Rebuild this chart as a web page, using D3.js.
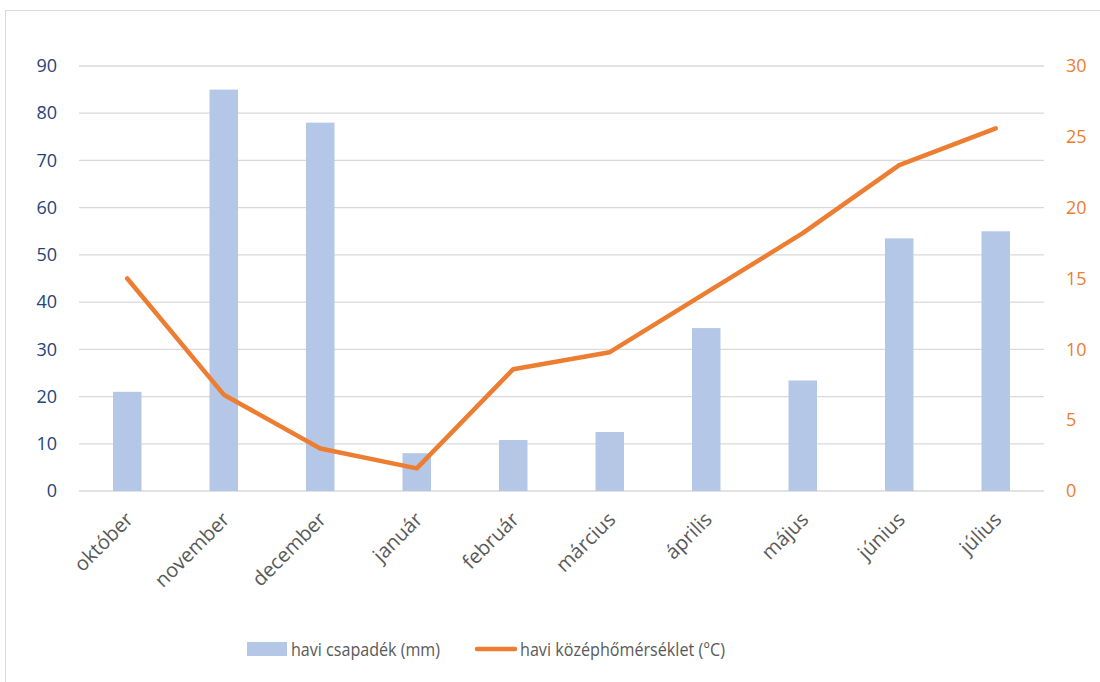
<!DOCTYPE html>
<html>
<head>
<meta charset="utf-8">
<script src="https://cdn.jsdelivr.net/npm/d3@7"></script>
<style>
  html, body { margin: 0; padding: 0; background: #fff; }
  svg { display: block; font-family: "Open Sans", "Noto Sans", sans-serif; }
</style>
</head>
<body>
<svg id="chart" width="1100" height="682"></svg>
<script>
// Months of the observation period
const months = ["október", "november", "december", "január", "február", "március", "április", "május", "június", "július"];
// Monthly precipitation (mm)
const precipitation = [21, 85, 78, 8, 10.8, 12.5, 34.5, 23.4, 53.5, 55];
// Monthly mean temperature (°C)
const temperature = [15.0, 6.8, 3.0, 1.6, 8.6, 9.8, 14.0, 18.2, 23.0, 25.6];
// Axis ticks
const leftTicks = [0, 10, 20, 30, 40, 50, 60, 70, 80, 90];
const rightTicks = [0, 5, 10, 15, 20, 25, 30];
// Legend entries
const seriesNames = ["havi csapadék (mm)", "havi középhőmérséklet (°C)"];

const svg = d3.select("#chart");
const W = 1100, H = 682;
const m = { left: 79, right: 1044, top: 66, bottom: 491 };

const barColor = "#B4C7E7";
const lineColor = "#ED7D31";
const gridColor = "#D9D9D9";
const font = "'Open Sans', sans-serif";

// Chart area frame
svg.append("rect")
  .attr("x", 5.5).attr("y", 10.5)
  .attr("width", W).attr("height", H)
  .attr("fill", "#fff")
  .attr("stroke", "#D9D9D9").attr("stroke-width", 1);

const x = d3.scaleBand().domain(months).range([m.left, m.right]).paddingInner(0.705).paddingOuter(0.3525);
const yL = d3.scaleLinear().domain([0, 90]).range([m.bottom, m.top]);
const yR = d3.scaleLinear().domain([0, 30]).range([m.bottom, m.top]);

// Horizontal gridlines
svg.append("g").selectAll("line").data(leftTicks).join("line")
  .attr("x1", m.left).attr("x2", m.right)
  .attr("y1", d => yL(d)).attr("y2", d => yL(d))
  .attr("stroke", gridColor).attr("stroke-width", 1.3);

// Left axis (precipitation)
const axL = svg.append("g").attr("transform", `translate(${m.left},0)`)
  .call(d3.axisLeft(yL).tickValues(leftTicks).tickSize(0).tickPadding(22));
axL.select(".domain").remove();
axL.selectAll("text").attr("fill", "#264478").style("font-size", "18px").style("font-family", font);

// Right axis (temperature)
const axR = svg.append("g").attr("transform", `translate(${m.right},0)`)
  .call(d3.axisRight(yR).tickValues(rightTicks).tickSize(0).tickPadding(22));
axR.select(".domain").remove();
axR.selectAll("text").attr("fill", lineColor).style("font-size", "18px").style("font-family", font);

// Bars
svg.append("g").selectAll("rect").data(precipitation).join("rect")
  .attr("x", (d, i) => x(months[i]))
  .attr("y", d => yL(d))
  .attr("width", x.bandwidth())
  .attr("height", d => yL(0) - yL(d))
  .attr("fill", barColor);

// Temperature line
const line = d3.line()
  .x((d, i) => x(months[i]) + x.bandwidth() / 2)
  .y(d => yR(d));
svg.append("path").datum(temperature)
  .attr("d", line)
  .attr("fill", "none")
  .attr("stroke", lineColor)
  .attr("stroke-width", 4.5)
  .attr("stroke-linejoin", "round")
  .attr("stroke-linecap", "round");

// Category labels, rotated
const axX = svg.append("g").attr("transform", `translate(0,${m.bottom})`)
  .call(d3.axisBottom(x).tickSize(0).tickPadding(0));
axX.select(".domain").remove();
axX.selectAll("text")
  .attr("fill", "#595959")
  .style("font-size", "20px")
  .style("font-family", font)
  .attr("text-anchor", "end")
  .attr("dy", null)
  .attr("transform", `translate(${x.bandwidth() / 2 - 11},26) rotate(-45)`)
  .attr("x", 0).attr("y", 0)
  .attr("dominant-baseline", "middle");

// Legend (text narrowed slightly to a compact width)
const lg = svg.append("g").style("font-family", font);
lg.append("rect").attr("x", 247).attr("y", 642).attr("width", 40).attr("height", 14).attr("fill", barColor);
lg.append("text").attr("x", 291).attr("y", 649).attr("dominant-baseline", "central")
  .attr("fill", "#595959").style("font-size", "17.5px")
  .attr("textLength", 149).attr("lengthAdjust", "spacingAndGlyphs")
  .text(seriesNames[0]);
lg.append("line").attr("x1", 477).attr("x2", 515).attr("y1", 649).attr("y2", 649)
  .attr("stroke", lineColor).attr("stroke-width", 4.5).attr("stroke-linecap", "round");
lg.append("text").attr("x", 520).attr("y", 649).attr("dominant-baseline", "central")
  .attr("fill", "#595959").style("font-size", "17.5px")
  .attr("textLength", 205).attr("lengthAdjust", "spacingAndGlyphs")
  .text(seriesNames[1]);
</script>
</body>
</html>
